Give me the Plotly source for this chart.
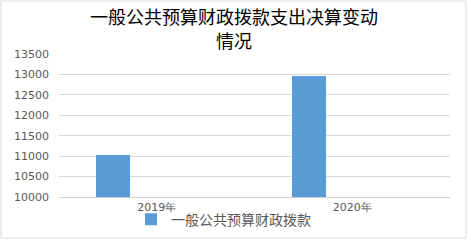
import plotly.graph_objects as go

categories = ["2019年", "2020年"]
series_name = "一般公共预算财政拨款"
values = [11030, 12965]
title_lines = ["一般公共预算财政拨款支出决算变动", "情况"]

W, H = 468, 240
L, R, T, B = 59, 18, 54, 43
pw, ph = W - L - R, H - T - B

fig = go.Figure()
fig.add_trace(go.Bar(
    x=categories, y=values, name=series_name,
    marker=dict(color="#5B9BD5", line=dict(width=0)),
    width=0.174, offset=-0.31,
))

fig.update_layout(
    width=W, height=H,
    margin=dict(l=L, r=R, t=T, b=B, autoexpand=False),
    paper_bgcolor="white", plot_bgcolor="white",
    showlegend=True,
    legend=dict(orientation="h", x=0.5 - 31 / pw, xanchor="center",
                yref="container", y=0.085, yanchor="middle",
                font=dict(family="Noto Sans CJK SC", size=14, color="#595959"),
                itemwidth=30, bgcolor="rgba(0,0,0,0)"),
    xaxis=dict(type="category", range=[-0.5, 1.5], showgrid=False, automargin=False,
               showline=True, linecolor="#D0D0D0", linewidth=1,
               ticks="", tickfont=dict(family="DejaVu Sans", size=11, color="#595959")),
    yaxis=dict(range=[10000, 13500], dtick=500, tickformat="d", automargin=False,
               showgrid=True, gridcolor="#D9D9D9",
               gridwidth=1, zeroline=False, showline=False, ticks="",
               ticklabelstandoff=9,
               tickfont=dict(family="DejaVu Sans", size=11, color="#595959")),
    bargap=0,
)

# two-line chart title
title_y_px = [16, 40]
for line, ypx in zip(title_lines, title_y_px):
    fig.add_annotation(text=line, xref="paper", yref="paper",
                       x=(234 - L) / pw, y=1 + (T - ypx) / ph,
                       xanchor="center", yanchor="middle", showarrow=False,
                       font=dict(family="Noto Sans CJK SC", size=18, color="#000000"))

# outer border of the chart area
fig.add_shape(type="rect", xref="paper", yref="paper",
              x0=(1 - L) / pw, x1=(W - 2 - L) / pw,
              y0=-(B - 2) / ph, y1=1 + (T - 1) / ph,
              line=dict(color="#D9D9D9", width=1), fillcolor="rgba(0,0,0,0)", layer="below")

fig.write_html("out.html")
